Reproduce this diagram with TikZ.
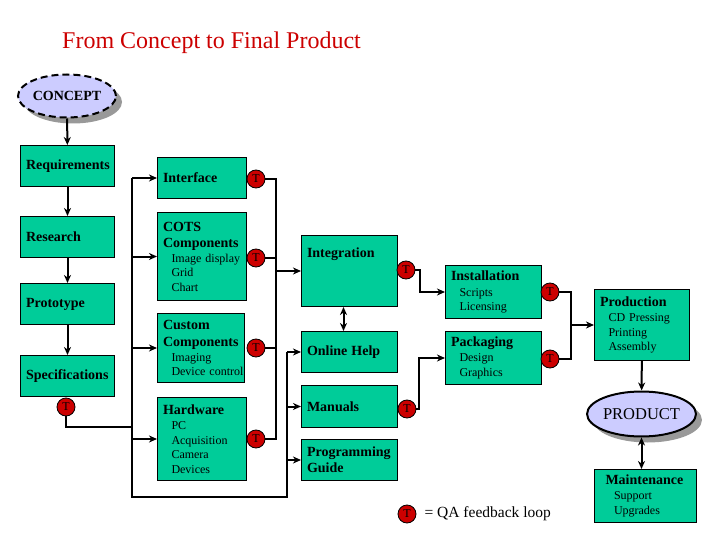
\documentclass[tikz,border=0pt]{standalone}
\usepackage{fontspec}
\setmainfont{Liberation Serif}
\usepackage{xcolor}
\definecolor{stageColor}{HTML}{00CC99}
\definecolor{qaColor}{HTML}{CC0000}
\definecolor{milestoneColor}{HTML}{CCCCFF}
\definecolor{shadowColor}{HTML}{999999}
\usepackage{tikz}
\usetikzlibrary{shapes.geometric, arrows.meta, positioning, shadows}

\newcommand{\head}[1]{{\fontsize{14}{16}\selectfont\bfseries #1}}
\newcommand{\detail}[1]{\hspace*{8.5pt}\mbox{#1}}

\begin{document}
\begin{tikzpicture}[x=1pt, y=-1pt, >={Stealth[length=8pt, width=7pt, inset=2.5pt]},
    stage/.style={draw=black, line width=1pt, fill=stageColor, anchor=north west, inner xsep=5.5pt, inner ysep=0pt, align=left, font=\fontsize{12}{14.5}\selectfont},
    qa/.style={circle, draw=black, line width=0.8pt, fill=qaColor, minimum size=18pt, inner sep=0pt, font=\fontsize{12}{12}\selectfont},
    milestone/.style={ellipse, draw=black, line width=2pt, fill=milestoneColor, inner sep=0pt, drop shadow={shadow xshift=6pt, shadow yshift=-6pt, fill=shadowColor, opacity=1}},
    wire/.style={line width=2pt},
    flow/.style={wire, ->}]
        \useasboundingbox (0,0) rectangle (720,540);

        % Title
        \node[anchor=west, inner sep=0pt, text=qaColor, font=\fontsize{24}{28}\selectfont] (title) at (62,43) {From Concept to Final Product};

        % Design column
        \node[milestone, dash pattern=on 7pt off 4pt, minimum width=98pt, minimum height=43pt, font=\fontsize{14}{16}\selectfont\bfseries] (concept) at (67,96) {CONCEPT};
        \node[stage, text width=83pt, minimum height=41pt] (req) at (20,145) {\head{Requirements}};
        \node[stage, text width=83pt, minimum height=41pt] (research) at (20,216) {\head{Research}};
        \node[stage, text width=83pt, minimum height=41pt] (proto) at (20,283) {\head{Prototype}};
        \node[stage, text width=83pt, minimum height=41pt] (spec) at (20,355) {\head{Specifications}};
        \node[qa] (tSpec) at (66,407) {T};

        % Build column
        \node[stage, text width=78pt, minimum height=41pt] (iface) at (157,157) {\head{Interface}};
        \node[stage, text width=78pt, minimum height=88pt] (cots) at (157,212) {\head{COTS}\\[1.5pt]\head{Components}\\[0.5pt]\detail{Image display}\\\detail{Grid}\\\detail{Chart}};
        \node[stage, text width=76pt, minimum height=69pt] (custom) at (157,313) {\head{Custom}\\[2pt]\head{Components}\\[0.5pt]\detail{Imaging}\\\detail{Device control}};
        \node[stage, text width=78pt, minimum height=83pt] (hw) at (157,397) {\head{Hardware}\\[0.5pt]\detail{PC}\\\detail{Acquisition}\\\detail{Camera}\\\detail{Devices}};
        \node[qa] (tIface) at (256,179) {T};
        \node[qa] (tCots) at (256,258) {T};
        \node[qa] (tCustom) at (256,348) {T};
        \node[qa] (tHw) at (256,439) {T};

        % Integration and documents
        \node[stage, text width=85pt, minimum height=71pt, text depth=36pt] (integ) at (301,235) {\head{Integration}};
        \node[stage, text width=85pt, minimum height=41pt] (help) at (301,331) {\head{Online Help}};
        \node[stage, text width=85pt, minimum height=42pt] (man) at (301,385) {\head{Manuals}};
        \node[stage, text width=85pt, minimum height=41pt] (prog) at (301,439) {\head{Programming}\\[1.5pt]\head{Guide}};
        \node[qa] (tInteg) at (406,270) {T};
        \node[qa] (tMan) at (407,409) {T};

        % Delivery
        \node[stage, text width=85pt, minimum height=53pt] (inst) at (445,265) {\head{Installation}\\[1pt]\detail{Scripts}\\\detail{Licensing}};
        \node[stage, text width=85pt, minimum height=53pt] (pack) at (445,331) {\head{Packaging}\\[0.5pt]\detail{Design}\\\detail{Graphics}};
        \node[qa] (tInst) at (550,292) {T};
        \node[qa] (tPack) at (550,359) {T};
        \node[stage, text width=84pt, minimum height=71pt] (prod) at (594,289) {\head{Production}\\[1pt]\detail{CD Pressing}\\\detail{Printing}\\\detail{Assembly}};
        \node[milestone, minimum width=106pt, minimum height=45pt, font=\fontsize{16.5}{18}\selectfont] (product) at (641.5,414) {PRODUCT};
        \node[stage, inner xsep=11pt, text width=80pt, minimum height=53pt] (maint) at (594,469) {\head{Maintenance}\\[0.5pt]\detail{Support}\\\detail{Upgrades}};

        % Legend
        \node[qa] (tKey) at (407,514) {T};
        \node[right=8pt of tKey, inner sep=0pt, font=\fontsize{15.5}{18}\selectfont] (keyText) {= QA feedback loop};

        % Paths
        \draw[flow] (concept) -- (req);
        \draw[flow] (req) -- (research);
        \draw[flow] (research) -- (proto);
        \draw[flow] (proto) -- (spec);

        \coordinate (busTop) at (132,177);
        \coordinate (busBot) at (132,497);
        \coordinate (helpBus) at (287,497);
        \draw[wire] (tSpec.south) |- (busTop |- 0,427);
        \draw[wire] (busTop |- iface.west) -- (busBot) -- (helpBus) -- (helpBus |- help.west);
        \foreach \n in {iface, cots, custom, hw} \draw[flow] (busTop |- \n.west) -- (\n.west);
        \foreach \n in {help, man, prog} \draw[flow] (helpBus |- \n.west) -- (\n.west);

        \coordinate (rbus) at (276,270);
        \draw[wire] (tIface.east) -- (tIface.east -| rbus) -- (tHw.east -| rbus) -- (tHw.east);
        \draw[wire] (tCots.east) -- (tCots.east -| rbus);
        \draw[wire] (tCustom.east) -- (tCustom.east -| rbus);
        \draw[flow] (rbus |- integ.west) -- (integ.west);
        \draw[wire, <->] ([xshift=-6pt]integ.south) -- ([xshift=-6pt]help.north);

        \draw[flow] (tInteg.east) -- ++(5,0) |- (inst.west);
        \draw[flow] (tMan.east) -- ++(3,0) |- (pack.west);

        \coordinate (pbus) at (571,324);
        \draw[wire] (tInst.east) -- (tInst.east -| pbus) -- (tPack.east -| pbus) -- (tPack.east);
        \draw[flow] (pbus |- prod.west) -- (prod.west);
        \draw[flow] (prod) -- (product);
        \draw[wire, <->] (product) -- (product |- maint.north);
    \end{tikzpicture}
\end{document}
